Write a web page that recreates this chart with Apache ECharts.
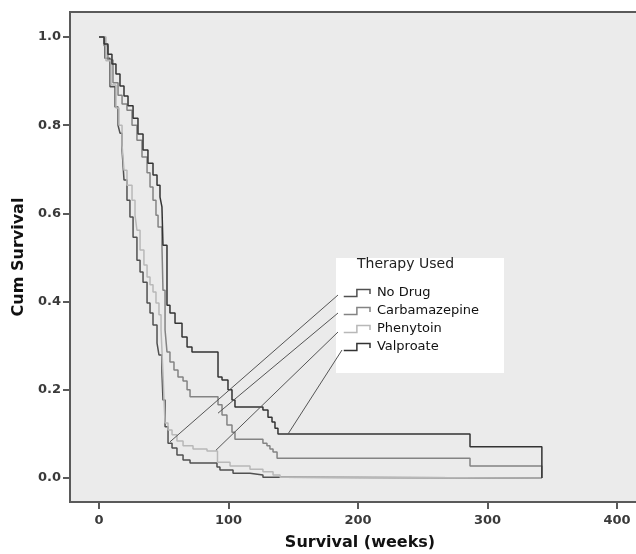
<!DOCTYPE html>
<html>
<head>
<meta charset="utf-8">
<script src="https://cdn.jsdelivr.net/npm/echarts@6/dist/echarts.min.js"></script>
<style>
  html, body { margin: 0; padding: 0; background: #fff; }
  #main { width: 636px; height: 554px; }
</style>
</head>
<body>
<div id="main"></div>
<script>
// Kaplan-Meier curves (weeks / cumulative survival)
var groups = ['No Drug', 'Carbamazepine', 'Phenytoin', 'Valproate']

var noDrugWeeks = [0, 4.6, 8.5, 12.4, 14.7, 16.2, 17.8, 19.3, 21.6, 23.9, 26.3, 29.3, 31.7, 34.0, 37.1, 39.4, 41.7, 44.8, 46.3, 48.6, 49.4, 51.0, 53.3, 56.4, 60.2, 64.9, 70.3, 91.1, 93.4, 103.5, 116.6, 126.6, 139.8, 342]
var noDrugSurv = [1.0, 0.952, 0.887, 0.841, 0.800, 0.782, 0.744, 0.676, 0.630, 0.592, 0.546, 0.494, 0.467, 0.444, 0.397, 0.374, 0.347, 0.306, 0.279, 0.240, 0.177, 0.116, 0.079, 0.068, 0.052, 0.041, 0.034, 0.025, 0.018, 0.011, 0.007, 0.002, 0.0, 0.0]

var carbaWeeks = [0, 3.9, 6.9, 10.8, 14.7, 17.8, 21.6, 25.5, 29.3, 33.2, 37.1, 39.4, 41.7, 44.0, 45.6, 48.6, 49.4, 51.0, 52.5, 54.8, 57.9, 61.0, 64.9, 68.0, 70.3, 91.9, 95.0, 98.8, 102.7, 105.0, 126.6, 129.7, 132.0, 134.4, 137.5, 286.5, 342]
var carbaSurv = [1.0, 0.980, 0.948, 0.896, 0.868, 0.848, 0.834, 0.800, 0.766, 0.728, 0.692, 0.660, 0.630, 0.596, 0.569, 0.528, 0.426, 0.336, 0.286, 0.263, 0.245, 0.229, 0.220, 0.200, 0.184, 0.166, 0.143, 0.120, 0.104, 0.088, 0.079, 0.073, 0.066, 0.059, 0.045, 0.027, 0.0]

var phenyWeeks = [0, 5.4, 9.3, 13.1, 15.4, 17.8, 19.3, 21.6, 25.5, 27.8, 29.3, 31.7, 34.7, 37.1, 39.4, 41.7, 44.0, 46.3, 47.9, 49.4, 50.2, 51.0, 53.3, 56.4, 60.2, 64.9, 72.6, 83.4, 91.5, 101.2, 116.6, 126.6, 134.4, 139.8, 143.6, 342]
var phenySurv = [1.0, 0.946, 0.891, 0.839, 0.800, 0.755, 0.698, 0.664, 0.630, 0.596, 0.562, 0.517, 0.483, 0.456, 0.438, 0.422, 0.397, 0.370, 0.336, 0.238, 0.177, 0.125, 0.109, 0.098, 0.084, 0.073, 0.066, 0.061, 0.036, 0.027, 0.020, 0.014, 0.007, 0.002, 0.0, 0.0]

var valproWeeks = [0, 3.9, 6.9, 10.0, 13.1, 16.2, 19.3, 22.4, 26.3, 30.1, 34.0, 37.8, 41.7, 44.8, 47.1, 48.6, 49.4, 52.5, 54.8, 58.7, 64.1, 68.0, 71.8, 91.9, 95.0, 99.6, 102.7, 105.0, 126.6, 130.5, 133.6, 135.9, 138.2, 286.5, 342]
var valproSurv = [1.0, 0.984, 0.961, 0.939, 0.916, 0.889, 0.866, 0.844, 0.816, 0.780, 0.744, 0.714, 0.687, 0.664, 0.637, 0.615, 0.528, 0.392, 0.374, 0.351, 0.320, 0.297, 0.286, 0.229, 0.222, 0.200, 0.177, 0.161, 0.154, 0.138, 0.127, 0.113, 0.100, 0.071, 0.0]

// points on each curve where the legend's label lines end
var leaderWeeks = [54.8, 91.9, 90.3, 146]
var leaderSurv = [0.082, 0.147, 0.063, 0.100]

var xTicks = [0, 100, 200, 300, 400]
var yTicks = [0.0, 0.2, 0.4, 0.6, 0.8, 1.0]

var colors = ['#505050', '#838383', '#b8b8b8', '#333333']
var font = 'DejaVu Sans'
var stepIcon = 'path://M0,8 L15,8 L15,0 L30,0 L30,5'

function zip (xs, ys) {
  return xs.map(function (x, i) { return [x, ys[i]] })
}

var curves = [
  zip(noDrugWeeks, noDrugSurv),
  zip(carbaWeeks, carbaSurv),
  zip(phenyWeeks, phenySurv),
  zip(valproWeeks, valproSurv)
]

var myChart = echarts.init(document.getElementById('main'))

var option = {
  animation: false,
  backgroundColor: '#ffffff',
  title: {
    text: 'Therapy Used',
    left: 357,
    top: 257,
    padding: 0,
    z: 8,
    textStyle: {
      fontFamily: font,
      fontSize: 14,
      fontWeight: 'normal',
      color: '#222'
    }
  },
  legend: {
    orient: 'vertical',
    left: 343,
    top: 286,
    padding: 0,
    itemWidth: 30,
    itemHeight: 7,
    itemGap: 4,
    z: 8,
    selectedMode: false,
    textStyle: {
      fontFamily: font,
      fontSize: 13,
      lineHeight: 14,
      color: '#111'
    },
    data: groups.map(function (g, i) {
      return {
        name: g,
        icon: stepIcon,
        itemStyle: { color: 'rgba(0,0,0,0)', borderColor: colors[i], borderWidth: 1.5 }
      }
    })
  },
  grid: {
    show: true,
    left: 70,
    top: 12,
    width: 580, // runs past the right edge, as in the picture
    height: 490,
    outerBoundsMode: 'none',
    containLabel: false,
    backgroundColor: '#ebebeb',
    borderColor: '#5a5a5a',
    borderWidth: 2
  },
  xAxis: {
    type: 'value',
    min: -22.4,
    max: 425.5,
    name: 'Survival (weeks)',
    nameLocation: 'middle',
    nameGap: 33,
    nameTextStyle: { fontFamily: font, fontSize: 16, fontWeight: 'bold', color: '#111' },
    axisLine: { show: true, onZero: false, lineStyle: { color: '#5a5a5a', width: 2 } },
    axisTick: { show: true, length: 7, customValues: xTicks, lineStyle: { color: '#5a5a5a', width: 2 } },
    axisLabel: {
      customValues: xTicks,
      margin: 12,
      fontFamily: font,
      fontSize: 13,
      fontWeight: 'bold',
      color: '#3a3a3a'
    },
    splitLine: { show: false }
  },
  yAxis: {
    type: 'value',
    min: -0.0544,
    max: 1.0567,
    name: 'Cum Survival',
    nameLocation: 'middle',
    nameGap: 38,
    nameTextStyle: { fontFamily: font, fontSize: 16, fontWeight: 'bold', color: '#111' },
    axisLine: { show: true, onZero: false, lineStyle: { color: '#5a5a5a', width: 2 } },
    axisTick: { show: true, length: 7, customValues: yTicks, lineStyle: { color: '#5a5a5a', width: 2 } },
    axisLabel: {
      customValues: yTicks,
      margin: 9,
      fontFamily: font,
      fontSize: 13,
      fontWeight: 'bold',
      color: '#3a3a3a',
      formatter: function (v) { return v.toFixed(1) }
    },
    splitLine: { show: false }
  },
  series: groups.map(function (g, i) {
    return {
      name: g,
      type: 'line',
      step: 'end',
      showSymbol: false,
      symbol: 'none',
      color: colors[i],
      lineStyle: { color: colors[i], width: 1.5 },
      emphasis: { disabled: true },
      data: curves[i]
    }
  })
}

myChart.setOption(option)

// white legend box and the label lines running to the curves
var anchorX = [338, 338, 338, 342]
var anchorY = [295, 313, 332, 350]
var graphics = [{
  type: 'rect',
  shape: { x: 336, y: 258, width: 168, height: 115 },
  style: { fill: '#ffffff' },
  z: 5
}]
leaderWeeks.forEach(function (w, i) {
  var p = myChart.convertToPixel({ gridIndex: 0 }, [w, leaderSurv[i]])
  graphics.push({
    type: 'line',
    shape: { x1: p[0], y1: p[1], x2: anchorX[i], y2: anchorY[i] },
    style: { stroke: '#555', lineWidth: 1 },
    z: 6
  })
})
myChart.setOption({ graphic: graphics })
</script>
</body>
</html>
